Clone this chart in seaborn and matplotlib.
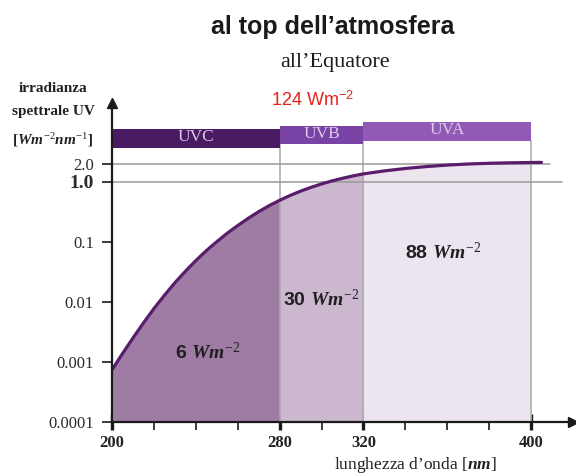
import numpy as np
import pandas as pd
import matplotlib
matplotlib.use("Agg")
import matplotlib.pyplot as plt
import seaborn as sns
from matplotlib.patches import Rectangle
from matplotlib.ticker import FixedLocator, NullLocator

# ---------------- data ----------------
wavelength = [200, 205, 210, 215, 220, 225, 230, 235, 240, 245, 250, 255,
              260, 265, 270, 275, 280, 285, 290, 295, 300, 305, 310, 315,
              320, 330, 340, 350, 360, 370, 380, 390, 400, 405]
irradiance = [7.41e-4, 1.38e-3, 2.51e-3, 4.47e-3, 7.76e-3, 0.0129, 0.0209,
              0.0324, 0.0490, 0.0716, 0.101, 0.140, 0.188, 0.248, 0.320, 0.403,
              0.495, 0.596, 0.703, 0.815, 0.929, 1.042, 1.153, 1.262, 1.365,
              1.531, 1.679, 1.807, 1.914, 1.995, 2.051, 2.089, 2.113, 2.123]

band_names = ["UVC", "UVB", "UVA"]
band_edges = [200, 280, 320, 400]
band_totals = ["6", "30", "88"]
total_value = "124"

y_ticks = [1e-4, 1e-3, 1e-2, 0.1, 1.0, 2.0]
y_tick_labels = ["0.0001", "0.001", "0.01", "0.1", "1.0", "2.0"]
x_major = [200, 280, 320, 400]
x_minor = [220, 240, 260, 300, 340, 360, 380]

# ---------------- style ----------------
sns.set_theme(style="white")
plt.rcParams["font.family"] = ["Liberation Serif", "DejaVu Serif"]
plt.rcParams["mathtext.fontset"] = "custom"
plt.rcParams["mathtext.rm"] = "Liberation Serif"
plt.rcParams["mathtext.it"] = "Liberation Serif:italic:bold"
plt.rcParams["mathtext.bf"] = "Liberation Serif:bold"
plt.rcParams["mathtext.sf"] = "Liberation Sans"

W, H = 576, 475
fig = plt.figure(figsize=(W / 100, H / 100), dpi=100)
fig.patch.set_facecolor("white")

ax_l, ax_b, ax_w, ax_h = 112, 53, 461, 319
ax = fig.add_axes([ax_l / W, ax_b / H, ax_w / W, ax_h / H])
ax.set_facecolor("none")
ax.set_yscale("log")
ax.set_xlim(200, 200 + ax_w / 2.095)
ax.set_ylim(1e-4, 10 ** (-4 + ax_h / 60))

wl = np.array(wavelength)
irr = np.array(irradiance)

fill_colors = ["#9f7ca3", "#cbb7ce", "#ece5ef"]
bar_colors = ["#4a1a62", "#7843a5", "#9359b7"]
bar_bottoms = [0.859, 0.871, 0.881]
bar_tops = [0.918, 0.928, 0.940]

for i in range(3):
    m = (wl >= band_edges[i]) & (wl <= band_edges[i + 1])
    ax.fill_between(wl[m], 1e-4, irr[m], color=fill_colors[i], lw=0, zorder=1)

# vertical separators
xt = ax.get_xaxis_transform()
for e, top in zip(band_edges[1:], [bar_bottoms[1], bar_bottoms[2], bar_bottoms[2]]):
    ax.plot([e, e], [0, top], transform=xt, color="#a9a9a9", lw=1.1, zorder=1.5,
            clip_on=False)

# horizontal reference lines at 2.0 and 1.0
ax.axhline(y_ticks[5], xmin=0, xmax=0.95, color="#9a9a9a", lw=1.1, zorder=1.6)
ax.axhline(y_ticks[4], xmin=0, xmax=0.976, color="#9a9a9a", lw=1.1, zorder=1.6)

# curve
df = pd.DataFrame({"wavelength": wavelength, "irradiance": irradiance})
sns.lineplot(data=df, x="wavelength", y="irradiance", color="#5a1d6b", lw=2.3,
             ax=ax, zorder=3)

# band bars
for i in range(3):
    x0, x1 = band_edges[i], band_edges[i + 1]
    ax.add_patch(Rectangle((x0, bar_bottoms[i]), x1 - x0, bar_tops[i] - bar_bottoms[i],
                           transform=xt, color=bar_colors[i], lw=0, clip_on=False,
                           zorder=4))
    ax.text((x0 + x1) / 2, (bar_bottoms[i] + bar_tops[i]) / 2 + 0.004, band_names[i],
            transform=xt, ha="center", va="center", color="#dccbe9", fontsize=12.5,
            family="Liberation Serif", zorder=5)

# spines / axes
for s in ["top", "right"]:
    ax.spines[s].set_visible(False)
for s in ["left", "bottom"]:
    ax.spines[s].set_color("#1a1a1a")
    ax.spines[s].set_linewidth(1.6)
    ax.spines[s].set_zorder(6)
ax.plot(0, 1, marker="^", color="#1a1a1a", ms=7, transform=ax.transAxes,
        clip_on=False, zorder=7)
ax.plot(1, 0, marker=">", color="#1a1a1a", ms=7, transform=ax.transAxes,
        clip_on=False, zorder=7)

ax.set_xlabel("")
ax.set_ylabel("")
ax.yaxis.set_major_locator(FixedLocator(y_ticks))
ax.yaxis.set_minor_locator(NullLocator())
ax.set_yticklabels(y_tick_labels)
ax.tick_params(axis="y", which="major", length=7, width=1.2, color="#1a1a1a",
               direction="out", pad=6, labelsize=12, labelcolor="#2a2a2a", left=True)
for lab in ax.get_yticklabels():
    if lab.get_text() == "1.0":
        lab.set_fontsize(14)
        lab.set_fontweight("bold")

ax.xaxis.set_major_locator(FixedLocator(x_major))
ax.xaxis.set_minor_locator(FixedLocator(x_minor))
ax.set_xticklabels([str(v) for v in x_major])
ax.tick_params(axis="x", which="major", length=11, width=2.4, color="#1a1a1a",
               direction="inout", pad=4, labelsize=12, bottom=True)
ax.tick_params(axis="x", which="minor", length=6, width=1.2, color="#1a1a1a",
               direction="out", bottom=True)
for lab in ax.get_xticklabels():
    lab.set_fontweight("bold")
    lab.set_color("#222222")

# ---------------- texts ----------------
def ft(x, y, s, **kw):
    fig.text(x / W, 1 - y / H, s, **kw)

ft(333, 27, "al top dell’atmosfera", ha="center", va="center", fontsize=18,
   fontweight="bold", family="Liberation Sans", color="#1a1a1a")
ft(335, 62, "all’Equatore", ha="center", va="center", fontsize=16,
   family="Liberation Serif", color="#1a1a1a")
ft(312, 100, total_value + r" Wm$^{\mathsf{-2}}$", ha="center", va="center",
   fontsize=13, family="Liberation Sans", color="#e4221c")

ft(53, 88, "irradianza", ha="center", va="center", fontsize=11, fontweight="bold",
   color="#222222")
ft(53, 112, "spettrale UV", ha="center", va="center", fontsize=11,
   fontweight="bold", color="#222222")
ft(53, 140, r"[$Wm^{-2}nm^{-1}$]", ha="center", va="center", fontsize=11,
   fontweight="bold", color="#222222")
ft(415, 465, r"lunghezza d’onda [$nm$]", ha="center", va="center", fontsize=12.5,
   color="#222222")

ann_pos = [(175, 352), (283, 300), (405, 253)]
for (px, py), tot in zip(ann_pos, band_totals):
    ft(px, py, tot + r" $Wm^{-2}$", ha="left", va="center", fontsize=14,
       fontweight="bold", family="Liberation Sans", color="#1f1f1f")

fig.savefig("out.png", dpi=100, facecolor="white")
